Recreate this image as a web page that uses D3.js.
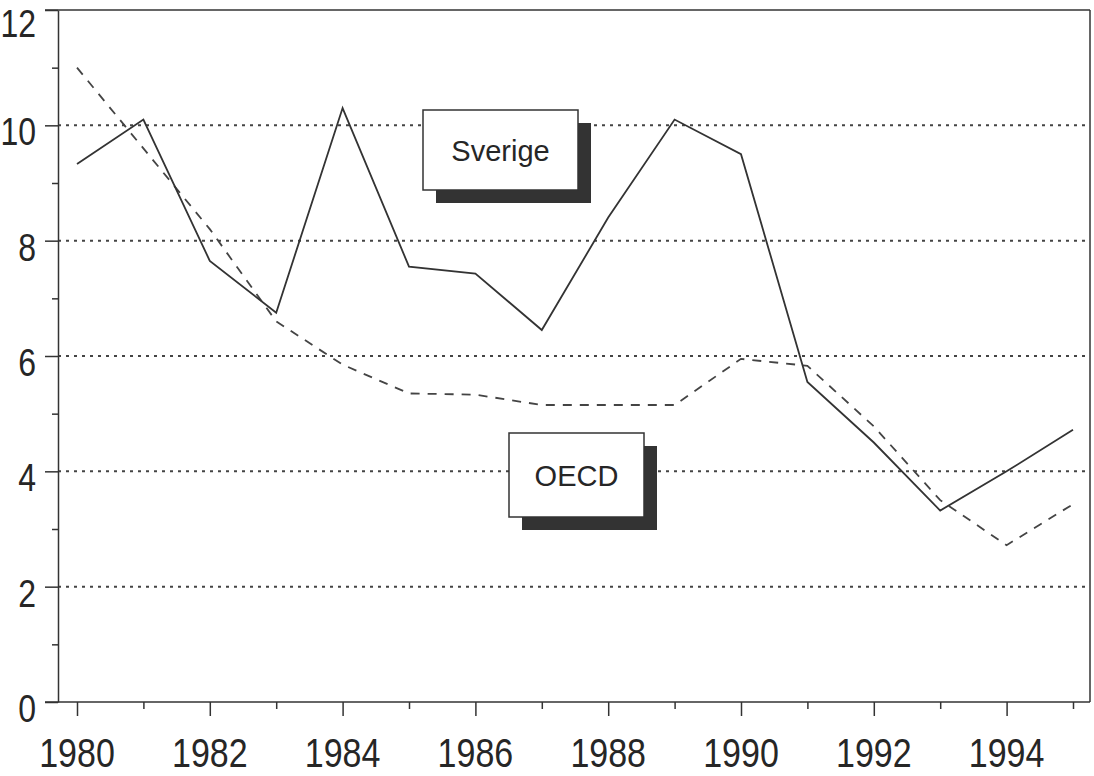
<!DOCTYPE html>
<html>
<head>
<meta charset="utf-8">
<script src="https://cdn.jsdelivr.net/npm/d3@7"></script>
<style>
  body { margin: 0; background: #fff; }
  text { font-family: "Liberation Sans", Arial, Helvetica, sans-serif; fill: #262626; }
</style>
</head>
<body>
<div id="chart"></div>
<script>
// chart size and plot edges
const width = 1094;
const height = 776;
const margin = {left: 58, right: 4, top: 10, bottom: 74};

// data
const years = [1980, 1981, 1982, 1983, 1984, 1985, 1986, 1987,
               1988, 1989, 1990, 1991, 1992, 1993, 1994, 1995];
const sverige = [9.33, 10.1, 7.65, 6.75, 10.3, 7.55, 7.43, 6.45,
                 8.4, 10.1, 9.5, 5.55, 4.5, 3.32, 4.0, 4.72];
const oecd = [11.0, 9.6, 8.2, 6.6, 5.85, 5.35, 5.33, 5.15,
              5.15, 5.15, 5.95, 5.83, 4.78, 3.5, 2.72, 3.43];
const yTicks = [0, 2, 4, 6, 8, 10, 12];
const yMinor = [1, 3, 5, 7, 9, 11];
const xLabels = [1980, 1982, 1984, 1986, 1988, 1990, 1992, 1994];

const ink = "#333";
const stretch = 1.2;   // the scanned tick labels are taller than wide

const svg = d3.select("#chart")
  .append("svg")
  .attr("width", width)
  .attr("height", height);

// scales
const x = d3.scaleLinear()
  .domain([1980, 1995])
  .range([77, 1073]);

const y = d3.scaleLinear()
  .domain([0, 12])
  .range([height - margin.bottom, margin.top]);

const x0 = margin.left, x1 = width - margin.right;
const yb = y(0), yt = y(12);

// dotted grid lines
svg.append("g")
  .selectAll("line")
  .data(yTicks.filter(d => d > 0 && d < 12))
  .join("line")
    .attr("x1", x0).attr("x2", x1)
    .attr("y1", d => y(d)).attr("y2", d => y(d))
    .attr("stroke", "#444")
    .attr("stroke-width", 2)
    .attr("stroke-dasharray", "3,5");

// frame: top line, right line
svg.append("line")
  .attr("x1", x0 - 13).attr("x2", x1)
  .attr("y1", yt).attr("y2", yt)
  .attr("stroke", ink).attr("stroke-width", 1.5);
svg.append("line")
  .attr("x1", x1).attr("x2", x1)
  .attr("y1", yt).attr("y2", yb)
  .attr("stroke", ink).attr("stroke-width", 1.5);

// y axis (ticks from d3, labels placed by hand so they can be stretched)
const yAxis = svg.append("g")
  .attr("transform", `translate(${x0},0)`)
  .call(d3.axisLeft(y).tickValues(yTicks).tickSize(13).tickSizeOuter(0).tickFormat(""));
yAxis.selectAll("line, path").attr("stroke", ink).attr("stroke-width", 1.5);

svg.append("g")
  .attr("transform", `translate(${x0},0)`)
  .call(d3.axisLeft(y).tickValues(yMinor).tickSize(6).tickFormat(""))
  .call(g => g.select(".domain").remove())
  .selectAll("line").attr("stroke", ink).attr("stroke-width", 1.5);

// top label kept just inside the page
svg.append("g")
  .selectAll("text")
  .data(yTicks)
  .join("text")
    .attr("transform", d => `translate(36,${Math.max(y(d) + 20, 37)}) scale(1,${stretch})`)
    .attr("text-anchor", "end")
    .attr("font-size", 32)
    .text(d => d);

// x axis
svg.append("line")
  .attr("x1", x0 - 13).attr("x2", x1)
  .attr("y1", yb).attr("y2", yb)
  .attr("stroke", ink).attr("stroke-width", 1.5);

svg.append("g")
  .attr("transform", `translate(0,${yb})`)
  .call(d3.axisBottom(x).tickValues(xLabels).tickSize(14).tickFormat(""))
  .call(g => g.select(".domain").remove())
  .selectAll("line").attr("stroke", ink).attr("stroke-width", 1.5);

svg.append("g")
  .attr("transform", `translate(0,${yb})`)
  .call(d3.axisBottom(x).tickValues(years.filter(d => d % 2 === 1)).tickSize(7).tickFormat(""))
  .call(g => g.select(".domain").remove())
  .selectAll("line").attr("stroke", ink).attr("stroke-width", 1.5);

svg.append("g")
  .selectAll("text")
  .data(xLabels)
  .join("text")
    .attr("transform", d => `translate(${x(d)},767) scale(1,${stretch})`)
    .attr("text-anchor", "middle")
    .attr("font-size", 34)
    .text(d => d);

// lines
const line = d3.line()
  .x((d, i) => x(years[i]))
  .y(d => y(d));

svg.append("path")
  .datum(oecd)
  .attr("d", line)
  .attr("fill", "none")
  .attr("stroke", "#444")
  .attr("stroke-width", 1.8)
  .attr("stroke-dasharray", "9,8");

svg.append("path")
  .datum(sverige)
  .attr("d", line)
  .attr("fill", "none")
  .attr("stroke", ink)
  .attr("stroke-width", 1.8);

// label boxes with drop shadow
const labels = [
  {text: "Sverige", x: 423, y: 110, w: 155, h: 80},
  {text: "OECD", x: 509, y: 433, w: 135, h: 84}
];

const box = svg.append("g").selectAll("g")
  .data(labels)
  .join("g");

box.append("rect")
  .attr("x", d => d.x + 13).attr("y", d => d.y + 13)
  .attr("width", d => d.w).attr("height", d => d.h)
  .attr("fill", "#333");

box.append("rect")
  .attr("x", d => d.x).attr("y", d => d.y)
  .attr("width", d => d.w).attr("height", d => d.h)
  .attr("fill", "#fff")
  .attr("stroke", ink)
  .attr("stroke-width", 1.5);

box.append("text")
  .attr("x", d => d.x + d.w / 2)
  .attr("y", d => d.y + d.h / 2 + 11)
  .attr("text-anchor", "middle")
  .attr("font-size", 29)
  .text(d => d.text);
</script>
</body>
</html>
